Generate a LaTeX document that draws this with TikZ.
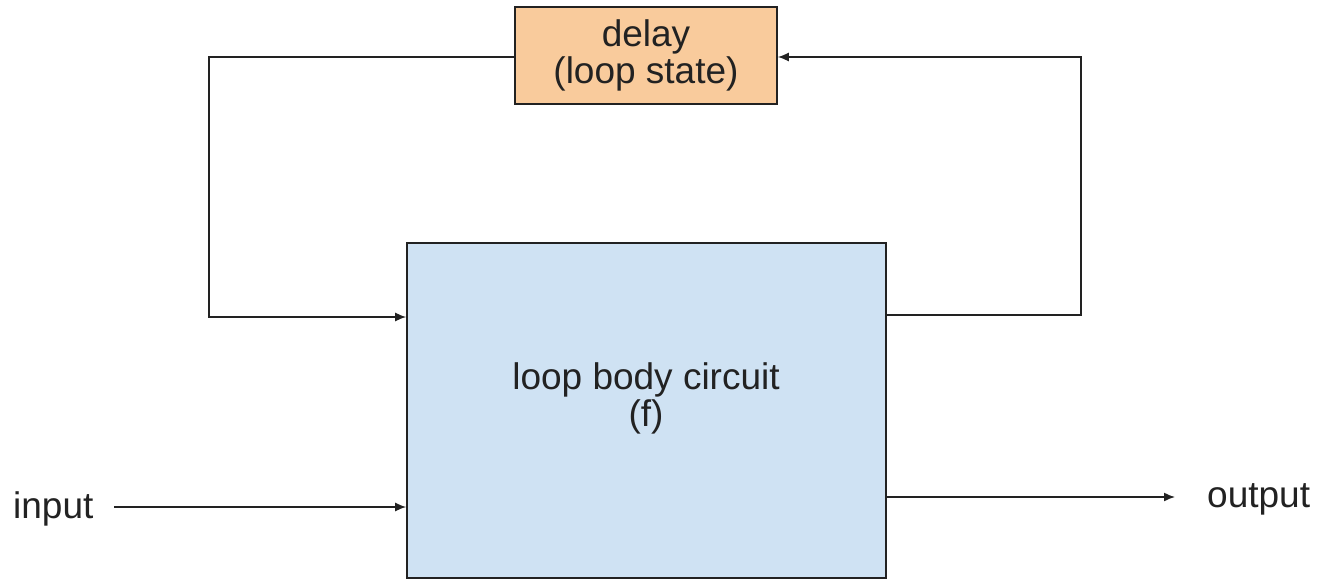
\documentclass[tikz,border=0pt]{standalone}
\usepackage{fontspec}
\setmainfont{Liberation Sans}
\usetikzlibrary{arrows.meta}
\definecolor{delayfill}{HTML}{F9CB9C}
\definecolor{bodyfill}{HTML}{CFE2F3}
\definecolor{ink}{HTML}{222222}
\tikzset{
  block/.style={draw=ink, line width=1.6pt, rectangle, inner sep=0pt},
  wire/.style={draw=ink, line width=1.5pt},
  flow/.style={wire, -{Latex[length=11pt,width=9pt]}},
  lbl/.style={text=ink, font=\fontsize{37}{37}\selectfont, align=center, inner sep=0pt},
}
\begin{document}
\begin{tikzpicture}[x=1pt,y=-1pt]
  \useasboundingbox (0,0) rectangle (1328,581);

  % blocks
  \node[block, fill=delayfill, minimum width=262pt, minimum height=97pt, lbl]
    (delay) at (646,55.5) {delay\\(loop state)};
  \node[block, fill=bodyfill, minimum width=479pt, minimum height=335pt]
    (body) at (646.5,410.5) {};
  \node[lbl] (bodytext) at (646,398) {loop body circuit\\(f)};

  % terminals
  \node[lbl, anchor=base west] (in) at (13,518) {input};
  \node[lbl, anchor=base west] (out) at (1207,507) {output};

  % feedback loop corners and stubs
  \coordinate (tl) at (209,57);
  \coordinate (bl) at (209,317);
  \coordinate (tr) at (1081,57);
  \coordinate (br) at (1081,315);
  \coordinate (inend) at (114,507);
  \coordinate (outend) at (1175,497);

  % loop state into the body
  \draw[flow] (delay.west |- tl) -- (tl) -- (bl) -- (bl -| body.west);
  % body result back into the delay
  \draw[flow] (br -| body.east) -- (br) -- (tr) -- (tr -| delay.east);
  % input and output
  \draw[flow] (inend) -- (inend -| body.west);
  \draw[flow] (outend -| body.east) -- (outend);
\end{tikzpicture}
\end{document}
